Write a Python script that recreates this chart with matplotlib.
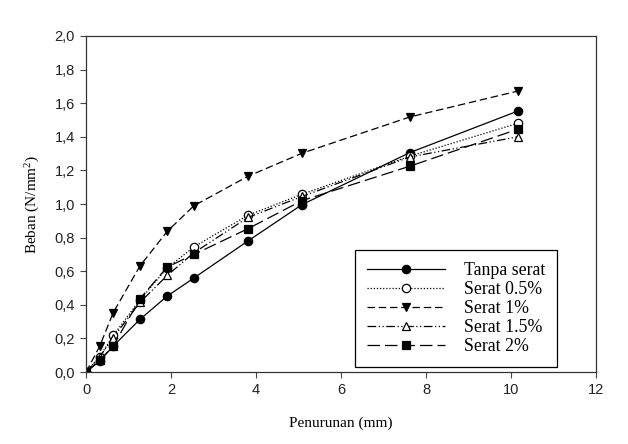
import matplotlib
matplotlib.use("Agg")
import matplotlib.pyplot as plt
from matplotlib.ticker import FuncFormatter

plt.rcParams['mathtext.fontset'] = 'custom'
plt.rcParams['mathtext.rm'] = 'Liberation Serif'
plt.rcParams['mathtext.it'] = 'Liberation Serif:italic'
plt.rcParams['mathtext.bf'] = 'Liberation Serif:bold'

x = [0, 0.32, 0.64, 1.27, 1.91, 2.54, 3.81, 5.08, 7.62, 10.16]
tanpa = [0, 0.065, 0.155, 0.314, 0.452, 0.56, 0.78, 0.996, 1.306, 1.553]
s05 = [0, 0.09, 0.218, 0.43, 0.62, 0.745, 0.933, 1.058, 1.285, 1.48]
s1 = [0, 0.153, 0.354, 0.632, 0.837, 0.99, 1.165, 1.302, 1.518, 1.672]
s15 = [0, 0.09, 0.205, 0.415, 0.575, 0.71, 0.92, 1.045, 1.28, 1.40]
s2 = [0, 0.07, 0.155, 0.437, 0.625, 0.70, 0.853, 1.02, 1.225, 1.445]
labels = ["Tanpa serat", "Serat 0.5%", "Serat 1%", "Serat 1.5%", "Serat 2%"]

fig = plt.figure(figsize=(6.28, 4.44), dpi=100)
ax = fig.add_axes([0.137, 0.162, 0.812, 0.757])

series = [tanpa, s05, s1, s15, s2]
styles = [
    dict(linestyle='-', marker='o', mfc='black'),
    dict(linestyle=(0, (1, 1.5)), marker='o', mfc='white'),
    dict(linestyle=(0, (6, 3)), marker='v', mfc='black'),
    dict(linestyle=(0, (7, 2, 1, 2, 1, 2)), marker='^', mfc='white'),
    dict(linestyle=(0, (10, 4)), marker='s', mfc='black'),
]
for y, st, lab in zip(series, styles, labels):
    ax.plot(x, y, color='black', lw=0.9, markersize=6, mec='black', mew=0.9,
            label=lab, **st)

ax.set_xlim(0, 12)
ax.set_ylim(0, 2.0)
ax.set_xticks(range(0, 13, 2))
ax.set_yticks([i * 0.2 for i in range(11)])
ax.yaxis.set_major_formatter(FuncFormatter(lambda v, p: f"{v:.1f}".replace('.', ',')))
for lab in ax.get_xticklabels() + ax.get_yticklabels():
    lab.set_fontfamily('Liberation Sans')
    lab.set_fontsize(10.5)
    lab.set_color('#222222')
ax.tick_params(direction='out', length=4, width=0.8, top=False, right=False,
               color='#444444', pad=4)
for sp in ax.spines.values():
    sp.set_linewidth(0.9)
    sp.set_color('#333333')

ax.set_xlabel("Penurunan (mm)", fontfamily='Liberation Serif', fontsize=11, labelpad=14)
ax.set_ylabel(r"Beban (N/mm$^\mathrm{2}$)", fontfamily='Liberation Serif', fontsize=11, labelpad=9)

leg = ax.legend(loc='lower right', bbox_to_anchor=(0.9235, 0.015), fancybox=False,
                edgecolor='black', framealpha=1, handlelength=4.4,
                prop={'family': 'Liberation Serif', 'size': 12.8},
                borderpad=0.65, labelspacing=0.12, handletextpad=1.07, borderaxespad=0.0)
leg.get_frame().set_linewidth(0.9)

fig.savefig("out.png", dpi=100)
